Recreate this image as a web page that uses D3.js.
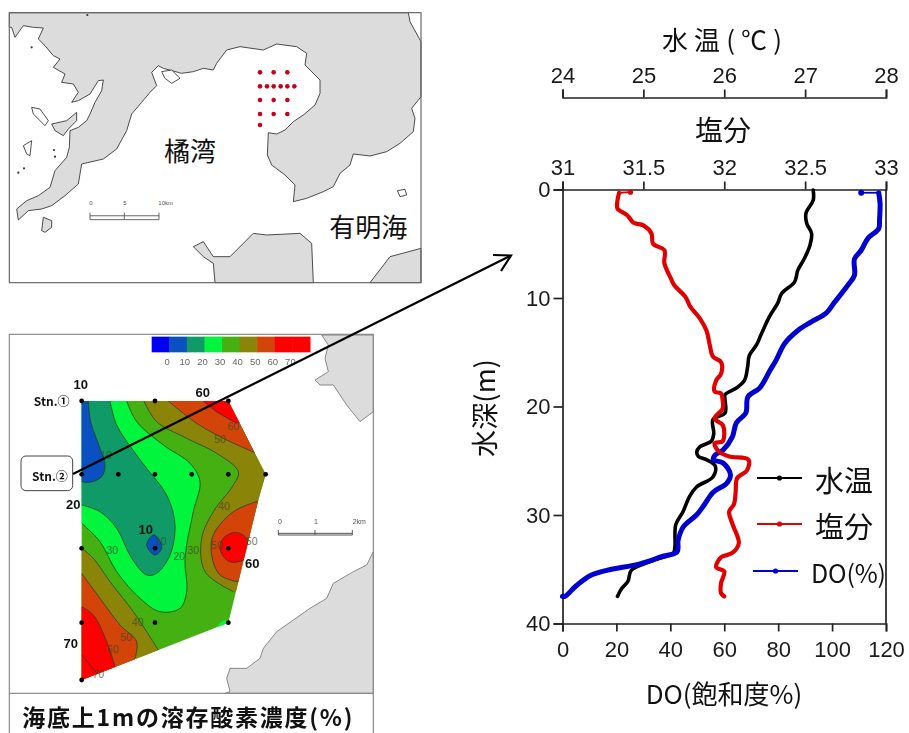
<!DOCTYPE html>
<html><head><meta charset="utf-8">
<script src="https://cdn.jsdelivr.net/npm/d3@7"></script>
<style>
html,body{margin:0;padding:0;background:#fff}
svg{display:block;filter:blur(0.35px)}
text{font-family:"Liberation Sans",Arial,sans-serif}
.jp{font-family:"Noto Sans CJK JP","Noto Sans",sans-serif}
</style></head><body>
<svg id="c" width="909" height="733"></svg>
<script>
// ---------- profile data ----------
const tempDepth=[0.06,0.98,2.2,3.13,4.05,5.13,6.36,7.43,8.51,9.59,10.5,11.7,13.3,14.3,15.3,16.3,17.6,18.3,18.9,19.4,20.6,21.2,22.5,23.2,23.7,24.2,24.6,24.9,25.5,26.5,27.4,28.3,29.7,30.9,32.9,33.5,34.2,35.1,36.1,36.8,37.5];
const temperature=[27.10,27.10,27.01,27.02,27.08,27.06,26.99,26.91,26.87,26.71,26.66,26.56,26.46,26.40,26.31,26.29,26.25,26.15,26.01,26.01,26.01,25.86,25.87,25.84,25.70,25.66,25.68,25.78,25.89,25.86,25.66,25.57,25.49,25.40,25.39,25.37,25.12,24.85,24.81,24.73,24.68];
const salDepth=[0.25,0.3,1,1.75,2.37,3.07,3.3,4.05,5,5.6,6.8,8.2,8.8,9.9,10.8,11.9,13,14.3,15.4,15.9,17,17.6,18.6,18.8,19.4,20.2,21.1,21.7,22.5,23.2,23.4,24.2,24.6,24.9,25.9,26.6,28,29,29.7,30.8,32.6,33.5,33.9,34.8,35.2,36.3,37.2,37.5];
const salinity=[31.42,31.35,31.34,31.34,31.40,31.44,31.50,31.55,31.56,31.63,31.63,31.67,31.69,31.76,31.79,31.85,31.89,31.91,31.93,31.98,31.98,31.95,31.94,31.98,31.99,31.99,31.94,31.99,32.0,31.99,31.94,31.97,32.03,32.15,32.14,32.08,32.07,32.06,32.03,32.05,32.09,32.05,31.98,31.95,32.0,31.98,31.98,32.0];
const doDepth=[0.3,0.3,1.3,2.8,3.6,4.5,5.6,6.4,7.9,8.8,10.4,11.4,12.2,13,14.2,15.7,16.7,18.3,19.1,20.6,21.5,22.8,24,24.5,24.9,25.2,26.3,27.1,27.9,29.2,30,31.1,32.3,33.4,33.8,34.5,35.1,35.6,36.5,37.5,37.5];
const doValues=[110.8,117.3,117.8,117.6,117.3,113.3,110.8,108.3,108.3,105.9,100.9,97.8,92.3,87.3,82.4,79.3,76.9,73.1,68.8,68,64.5,63,59.6,56.5,55.9,59.6,62.3,60.8,55.9,52.2,49.7,44.8,42.9,42.5,37.3,28.7,16.4,10.2,5.2,0.9,0];
const tempTicks=[24,25,26,27,28];
const salTicks=[31,31.5,32,32.5,33];
const depthTicks=[0,10,20,30,40];
const doTicks=[0,20,40,60,80,100,120];
const seriesNames=["水温","塩分","DO(%)"];
const seriesColors=["#000000","#e00000","#0000d0"];
// ---------- upper map (map units: 1/3 px) ----------
const landNorth=[[28,82],[35,82],[45,112],[70,77],[100,82],[130,84],[115,117],[135,137],[160,167],[180,177],[160,202],[195,222],[185,247],[220,252],[235,277],[215,307],[235,302],[270,282],[295,242],[310,240],[305,272],[285,307],[270,342],[260,362],[235,382],[210,392],[208,442],[200,472],[165,512],[150,562],[115,587],[80,602],[50,627],[55,660],[85,632],[125,627],[155,617],[195,587],[235,552],[245,492],[310,477],[350,447],[380,392],[395,342],[425,307],[450,277],[470,257],[455,217],[475,197],[490,205],[545,220],[580,215],[610,205],[640,210],[650,190],[680,150],[720,140],[790,150],[830,132],[890,140],[920,160],[915,195],[940,220],[960,240],[960,280],[945,315],[910,345],[880,365],[855,390],[830,402],[805,398],[802,465],[815,495],[855,525],[885,555],[880,605],[920,595],[970,575],[1000,560],[1020,520],[1050,495],[1060,462],[1110,468],[1160,455],[1200,430],[1240,395],[1245,355],[1235,325],[1263,290],[1263,125],[1230,65],[1225,38],[28,38]];
const landSouth=[[580,740],[610,725],[640,770],[690,770],[760,700],[800,705],[900,700],[935,730],[940,848],[645,848],[640,790],[610,770]];
const landEast=[[1110,848],[1170,770],[1263,745],[1263,848]];
const isletsGrey=[[[125,692],[130,652],[155,662],[155,682],[135,697]],[[155,372],[200,362],[230,337],[230,362],[205,387],[190,407],[165,392]]];
const isletsWhite=[[[95,322],[120,327],[145,362],[135,377],[100,342]],[[70,437],[95,422],[90,467],[80,462]],[[1192,572],[1215,568],[1220,585],[1200,590]],[[485,215],[515,210],[540,235],[515,250],[495,235]]];
const specks=[[95,142],[162,450],[165,470],[55,518],[72,505],[262,45]];
const stationRows=[[217,[780,821,862]],[259,[780,801,821,842,862,883]],[300,[780,821,862]],[342,[780,821,862]],[375,[780]]];
// ---------- lower map (map units: 1/3 px) ----------
const hull=[[245,228],[685,228],[797,448],[775,525],[715,770],[685,893],[245,1065]];
const landNE=[[965,30],[985,60],[975,100],[985,140],[945,165],[960,180],[1000,180],[1040,240],[1080,290],[1120,260],[1120,30]];
const landSE=[[1120,680],[1100,720],[1060,740],[1000,775],[980,820],[930,850],[830,920],[790,970],[780,1000],[740,1030],[690,1030],[680,1060],[690,1100],[675,1105],[1120,1105]];
const stations=[[245,228],[465,228],[685,228],[245,448],[355,448],[465,448],[575,448],[685,448],[797,448],[245,670],[465,670],[685,670],[245,893],[465,893],[685,893],[245,1065]];
const c10=[[265,228],[272,290],[300,370],[315,420],[305,455],[270,472],[245,470]];
const c20=[[330,228],[350,300],[395,370],[440,430],[500,510],[525,600],[510,690],[470,745],[440,750],[395,700],[350,610],[300,560],[245,540]];
const c30=[[380,228],[410,290],[490,360],[570,415],[600,470],[580,560],[555,700],[560,800],[540,850],[480,860],[420,820],[350,740],[300,650],[245,595]];
const c40a=[[432,228],[470,290],[560,340],[650,385],[715,440],[700,480],[640,560],[605,640],[615,740],[700,800]];
const c50a=[[505,228],[590,295],[680,345],[770,385]];
const c60a=[[610,228],[650,260],[710,295]];
const c50b=[[785,525],[700,560],[640,630],[635,690],[660,750],[720,772]];
const c60b=[[705,622],[670,640],[660,670],[680,705],[705,712],[735,700],[745,660],[735,635]];
const c40c=[[245,670],[280,700],[330,770],[400,860],[440,920],[475,975]];
const c50c=[[245,745],[300,820],[360,900],[410,950],[405,1000]];
const c60c=[[245,845],[280,870],[320,950],[345,1025]];
const c70c=[[245,990],[270,1020],[295,1050]];
const c0b=[[460,630],[440,660],[465,690],[485,670],[475,640]];
const c30d=[[652,903],[665,890],[685,885],[690,893]];
const legendLabels=[0,10,20,30,40,50,60,70];
const legendColors=["#0000f0","#0a50c0","#0f9a68","#00f53c","#44b012","#8a8408","#d24408","#ff0000","#ff0000"];
const contourLabels=[["60",700,303],["50",660,342],["10",318,390],["40",672,542],["50",755,647],["50",650,660],["30",337,675],["30",580,675],["20",538,693],["10",482,647],["40",413,890],["50",378,937],["60",338,972],["70",295,1047]];
const boldLabels=[["10",242,177],["Stn.①",155,227],["60",608,203],["Stn.②",150,450],["20",220,537],["10",437,613],["60",757,715],["70",212,955]];

const svg=d3.select("#c");
// ---------- panel 1 ----------
const mx=d3.scaleLinear().domain([0,909*3]).range([0,909]);
const my=d3.scaleLinear().domain([0,733*3]).range([0,733]);
const l1=d3.line().x(d=>mx(d[0])).y(d=>my(d[1]));
const p1=svg.append("g");
p1.append("rect").attr("x",mx(28)).attr("y",my(38)).attr("width",mx(1235)).attr("height",my(810)).attr("fill","#fff");
[landNorth,landSouth,landEast].forEach(a=>p1.append("path").attr("d",l1(a)+"Z").attr("fill","#dcdcdc").attr("stroke","#222").attr("stroke-width",.8));
isletsGrey.forEach(a=>p1.append("path").attr("d",l1(a)+"Z").attr("fill","#dcdcdc").attr("stroke","#222").attr("stroke-width",.8));
isletsWhite.forEach(a=>p1.append("path").attr("d",l1(a)+"Z").attr("fill","#fff").attr("stroke","#222").attr("stroke-width",.8));
specks.forEach(d=>p1.append("circle").attr("cx",mx(d[0])).attr("cy",my(d[1])).attr("r",1.1).attr("fill","#333"));
p1.append("rect").attr("x",mx(28)).attr("y",my(38)).attr("width",mx(1235)).attr("height",my(810)).attr("fill","none").attr("stroke","#6a6a6a").attr("stroke-width",1.2);
stationRows.forEach(([y,xs])=>xs.forEach(x=>p1.append("circle").attr("cx",mx(x)).attr("cy",my(y)).attr("r",2.3).attr("fill","#c8001a")));
const jp=(g,t,x,y,s,o={})=>{const e=g.append("text").attr("class","jp").attr("x",x).attr("y",y).attr("font-size",s).attr("text-anchor",o.a||"middle").attr("dominant-baseline","central").attr("font-weight",o.w||400).attr("fill",o.f||"#111").text(t);if(o.len)e.attr("textLength",o.len).attr("lengthAdjust","spacing");return e;};
jp(p1,"橘湾",mx(570),my(447),26);
jp(p1,"有明海",mx(1105),my(675),26);
const sb=(g,x0,x1,xm,y,h,labs,ly)=>{
  g.append("path").attr("d",`M${mx(x0)},${my(y-h)}V${my(y+h/2)}H${mx(x1)}V${my(y-h)}M${mx(xm)},${my(y-h)}V${my(y+h/2)}M${mx(x0)},${my(y-h/3)}H${mx(x1)}`).attr("fill","none").attr("stroke","#555").attr("stroke-width",.9);
  labs.forEach(([t,x])=>g.append("text").attr("x",mx(x)).attr("y",my(ly)).attr("font-size",6).attr("text-anchor","middle").attr("dominant-baseline","central").attr("fill","#555").text(t));
};
sb(p1,270,477,373,652,14,[["0",273],["5",375],["10km",497]],610);

// ---------- panel 2 ----------
const oy=325*3;
const l2=d3.line().x(d=>mx(d[0])).y(d=>my(d[1]+oy));
const smooth=d3.line().x(d=>mx(d[0])).y(d=>my(d[1]+oy)).curve(d3.curveCatmullRom.alpha(.5));
const smoothC=d3.line().x(d=>mx(d[0])).y(d=>my(d[1]+oy)).curve(d3.curveCatmullRomClosed.alpha(.5));
const p2=svg.append("g");
p2.append("rect").attr("x",mx(28)).attr("y",my(28+oy)).attr("width",mx(1092)).attr("height",my(1196)).attr("fill","#fff");
p2.append("path").attr("d",l2(landNE)+"Z").attr("fill","#dcdcdc").attr("stroke","#444").attr("stroke-width",.6);
p2.append("path").attr("d",l2(landSE)+"Z").attr("fill","#dcdcdc").attr("stroke","#444").attr("stroke-width",.6);
svg.append("defs").append("clipPath").attr("id","hull").append("path").attr("d",l2(hull)+"Z");
const f=p2.append("g").attr("clip-path","url(#hull)");
f.append("rect").attr("x",0).attr("y",0).attr("width",909).attr("height",733).attr("fill",legendColors[4]);
const reg=(contour,cap,col)=>{
  f.append("path").attr("d",smooth(contour)+l2(cap).replace("M","L")+"Z").attr("fill",col);
};
reg(c30,[[150,595],[150,150],[380,150]],legendColors[3]);
reg(c20,[[150,540],[150,150],[330,150]],legendColors[2]);
reg(c10,[[150,470],[150,150],[265,150]],legendColors[1]);
reg(c40a,[[900,800],[900,150],[432,150]],legendColors[5]);
reg(c50a,[[900,385],[900,150],[505,150]],legendColors[6]);
reg(c60a,[[900,295],[900,150],[610,150]],legendColors[7]);
reg(c50b,[[900,772],[900,525]],legendColors[6]);
reg(c40c,[[475,1100],[150,1100],[150,670]],legendColors[5]);
reg(c50c,[[405,1100],[150,1100],[150,745]],legendColors[6]);
reg(c60c,[[345,1100],[150,1100],[150,845]],legendColors[7]);
reg(c30d,[[690,920],[652,920]],legendColors[3]);
f.append("path").attr("d",smoothC(c60b)).attr("fill",legendColors[7]);
f.append("path").attr("d",smoothC(c0b)).attr("fill",legendColors[1]);
[c10,c20,c30,c40a,c50a,c60a,c50b,c40c,c50c,c60c,c70c].forEach(a=>f.append("path").attr("d",smooth(a)).attr("fill","none").attr("stroke","#1c3a14").attr("stroke-width",.7));
[c60b,c0b].forEach(a=>f.append("path").attr("d",smoothC(a)).attr("fill","none").attr("stroke","#1c3a14").attr("stroke-width",.7));
contourLabels.forEach(([t,x,y])=>p2.append("text").attr("x",mx(x)).attr("y",my(y+oy)).attr("font-size",10.5).attr("text-anchor","middle").attr("dominant-baseline","central").attr("fill","#3d4a2a").attr("opacity",.75).text(t));
stations.forEach(d=>p2.append("circle").attr("cx",mx(d[0])).attr("cy",my(d[1]+oy)).attr("r",2.4).attr("fill","#000"));
// legend colour bar
const lbx=d3.scaleBand().domain(d3.range(9)).range([mx(455),mx(930)]);
p2.selectAll("rect.lg").data(legendColors).join("rect").attr("class","lg").attr("x",(d,i)=>lbx(i)).attr("y",my(35+oy)).attr("width",lbx.bandwidth()+.5).attr("height",my(47)).attr("fill",d=>d);
legendLabels.forEach((t,i)=>p2.append("text").attr("x",lbx(i)+lbx.bandwidth()-2).attr("y",my(110+oy)).attr("font-size",9.5).attr("text-anchor","middle").attr("dominant-baseline","central").attr("fill","#666").text(t));
// scale bar 2
(function(){const y=my(625+oy),h=my(10);
 p2.append("path").attr("d",`M${mx(835)},${y-h}V${y+h/2}H${mx(1057)}V${y-h}M${mx(945)},${y-h}V${y+h/2}M${mx(835)},${y}H${mx(1057)}`).attr("fill","none").attr("stroke","#555").attr("stroke-width",1);
 [["0",840],["1",948],["2km",1078]].forEach(([t,x])=>p2.append("text").attr("x",mx(x)).attr("y",my(588+oy)).attr("font-size",7).attr("text-anchor","middle").attr("dominant-baseline","central").attr("fill","#555").text(t));
})();
p2.append("rect").attr("x",mx(28)).attr("y",my(28+oy)).attr("width",mx(1092)).attr("height",my(1077)).attr("fill","none").attr("stroke","#8a8a8a").attr("stroke-width",1.2);
p2.append("path").attr("d",`M${mx(28)},${my(1105+oy)}V733M${mx(1120)},${my(1105+oy)}V733`).attr("stroke","#8a8a8a").attr("stroke-width",1.2);
jp(p2,"海底上1mの溶存酸素濃度(%)",mx(562),my(1172+oy),23,{w:700,len:330});
// callout
p2.append("rect").attr("x",mx(63)).attr("y",my(393+oy)).attr("width",mx(155)).attr("height",my(104)).attr("rx",5).attr("fill","#fff").attr("stroke","#444").attr("stroke-width",1);
boldLabels.forEach(([t,x,y])=>p2.append("text").attr("x",mx(x)).attr("y",my(y+oy)).attr("font-size",t.startsWith("Stn")?12:13).attr("font-weight",700).attr("text-anchor","middle").attr("dominant-baseline","central").attr("fill","#111").attr("class",t.startsWith("Stn")?"jp":null).text(t));
// arrow
svg.append("path").attr("d","M73,474L510,256").attr("stroke","#000").attr("stroke-width",2.2).attr("fill","none");
svg.append("path").attr("d","M493,255L511,255.5L501,271").attr("stroke","#000").attr("stroke-width",2.2).attr("fill","none");

// ---------- profile chart ----------
const x0=562.5,x1=886,y0=189.5,y1=623.5;
const xDO=d3.scaleLinear().domain([0,120]).range([x0,x1]);
const xT=d3.scaleLinear().domain([24,28]).range([x0,x1]);
const xS=d3.scaleLinear().domain([31,33]).range([x0,x1]);
const yD=d3.scaleLinear().domain([0,40]).range([y0,y1]);
const style=(g,fs)=>{g.selectAll("path.domain").attr("stroke","#222").attr("stroke-width",1.7);g.selectAll(".tick line").attr("stroke","#222").attr("stroke-width",1.7);g.selectAll("text").attr("font-size",fs).attr("fill","#1a1a1a").attr("font-family","Liberation Sans");};
const sz=22;
style(svg.append("g").attr("transform",`translate(0,97.5)`).call(d3.axisTop(xT).tickValues(tempTicks).tickSize(8).tickPadding(7).tickSizeOuter(8).tickFormat(d3.format("d"))),sz);
style(svg.append("g").attr("transform",`translate(0,${y0})`).call(d3.axisTop(xS).tickValues(salTicks).tickSize(8).tickPadding(7).tickSizeOuter(8).tickFormat(d=>d)),sz);
style(svg.append("g").attr("transform",`translate(${x0},0)`).call(d3.axisLeft(yD).tickValues(depthTicks).tickSize(9).tickPadding(3).tickSizeOuter(9)),sz);
style(svg.append("g").attr("transform",`translate(0,${y1})`).call(d3.axisBottom(xDO).tickValues(doTicks).tickSize(8).tickPadding(10).tickSizeOuter(8)),sz);
svg.append("line").attr("x1",x1).attr("x2",x1).attr("y1",y0).attr("y2",y1).attr("stroke","#222").attr("stroke-width",1.7);
const series=[[temperature,tempDepth,xT,3.6],[salinity,salDepth,xS,4.2],[doValues,doDepth,xDO,5]];
const prof=d3.line().curve(d3.curveCatmullRom.alpha(.5));
[0,2,1].forEach(k=>{const [v,dp,xs,w]=series[k];const pts=v.map((d,i)=>[xs(d),yD(dp[i])]);
  const s=k==0?0:1;
  if(s){svg.append("path").attr("d",d3.line()(pts.slice(0,2))).attr("stroke",seriesColors[k]).attr("stroke-width",1.8).attr("fill","none");
        svg.append("circle").attr("cx",pts[0][0]).attr("cy",pts[0][1]).attr("r",k==2?3:2.6).attr("fill",seriesColors[k]);}
  svg.append("path").attr("d",prof(pts.slice(s))).attr("fill","none").attr("stroke",seriesColors[k]).attr("stroke-width",w).attr("stroke-linejoin","round").attr("stroke-linecap","round");
});
// legend
const lgY=[478,524,571],lgX=[[757,802],[757,802],[753,798]],lgT=[815,815,811];
seriesNames.forEach((n,i)=>{
  svg.append("line").attr("x1",lgX[i][0]).attr("x2",lgX[i][1]).attr("y1",lgY[i]).attr("y2",lgY[i]).attr("stroke",seriesColors[i]).attr("stroke-width",2);
  svg.append("circle").attr("cx",(lgX[i][0]+lgX[i][1])/2).attr("cy",lgY[i]).attr("r",2.6).attr("fill",seriesColors[i]);
  jp(svg,n,lgT[i],lgY[i]+1,i==2?25:29,{a:"start",len:i==2?75:null});
});
jp(svg,"水温(℃)",722,38,26,{len:120}).attr("letter-spacing",null);
jp(svg,"塩分",723,129,28);
jp(svg,"水深(m)",483,408,27,{len:98}).attr("transform","rotate(-90,483,408)");
jp(svg,"DO(飽和度%)",724,692,26);
</script>
</body></html>
